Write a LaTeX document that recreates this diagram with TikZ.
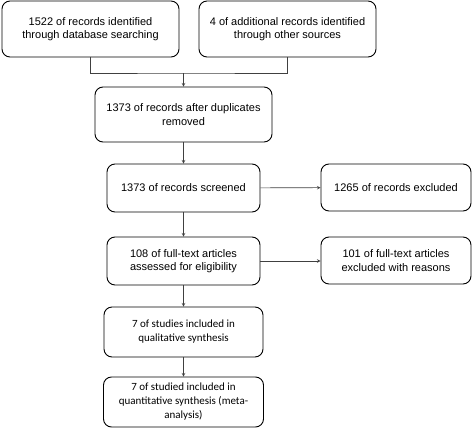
\documentclass[tikz,border=0pt]{standalone}
\usepackage{fontspec}
\setmainfont{Liberation Sans}
\newfontfamily\calfont{Carlito}
\usetikzlibrary{positioning,arrows.meta}
\tikzset{
		>=stealth
	}
\tikzset{
		box/.style={draw, rounded corners=8pt, align=center, inner sep=0pt,
			line width=0.9pt, font=\fontsize{11}{13.3}\selectfont},
		calbox/.style={box, font=\calfont\fontsize{11}{14}\selectfont},
		flow/.style={->, draw=black!75, line width=0.6pt}
	}

\begin{document}
\begin{tikzpicture}[x=1pt, y=-1pt] % one unit = one pixel of the flow chart
		\useasboundingbox (0,0) rectangle (472,429);
		% identification
		\node[box, minimum width=177, minimum height=56] (db) at (90.5,29)
		  {1522 of records identified\\through database searching};
		\node[box, minimum width=177, minimum height=56] (other) at (287.5,29)
		  {4 of additional records identified\\through other sources};
		\coordinate (merge) at (183.5,73);
		\node[box, minimum width=177, minimum height=55] (dup) at (183.5,114.5)
		  {1373 of records after duplicates\\removed};
		% screening
		\node[box, minimum width=153, minimum height=48] (screen) at (183.5,188)
		  {1373 of records screened};
		\node[box, minimum width=150, minimum height=47] (excl) at (396,187.5)
		  {1265 of records excluded};
		% eligibility
		\node[box, minimum width=153, minimum height=48] (full) at (183.5,261)
		  {108 of full-text articles\\assessed for eligibility};
		\node[box, minimum width=150, minimum height=47] (fullexcl) at (396,260.5)
		  {101 of full-text articles\\excluded with reasons};
		% included
		\node[calbox, minimum width=159, minimum height=50] (qual) at (183.5,332)
		  {7 of studies included in\\qualitative synthesis};
		\node[calbox, minimum width=160, minimum height=50] (quant) at (183.5,402)
		  {7 of studied included in\\quantitative synthesis (meta-\\analysis)};

		\draw[flow, -] (db.south) |- (merge) -| (other.south);
		\draw[flow] (merge) -- (dup);
		\draw[flow] (dup) -- (screen);
		\draw[flow] (screen) -- (excl);
		\draw[flow] (screen) -- (full);
		\draw[flow] (full.east) -- (full.east -| fullexcl.west);
		\draw[flow] (full) -- (qual);
		\draw[flow] (qual) -- (quant);
	\end{tikzpicture}
\end{document}
